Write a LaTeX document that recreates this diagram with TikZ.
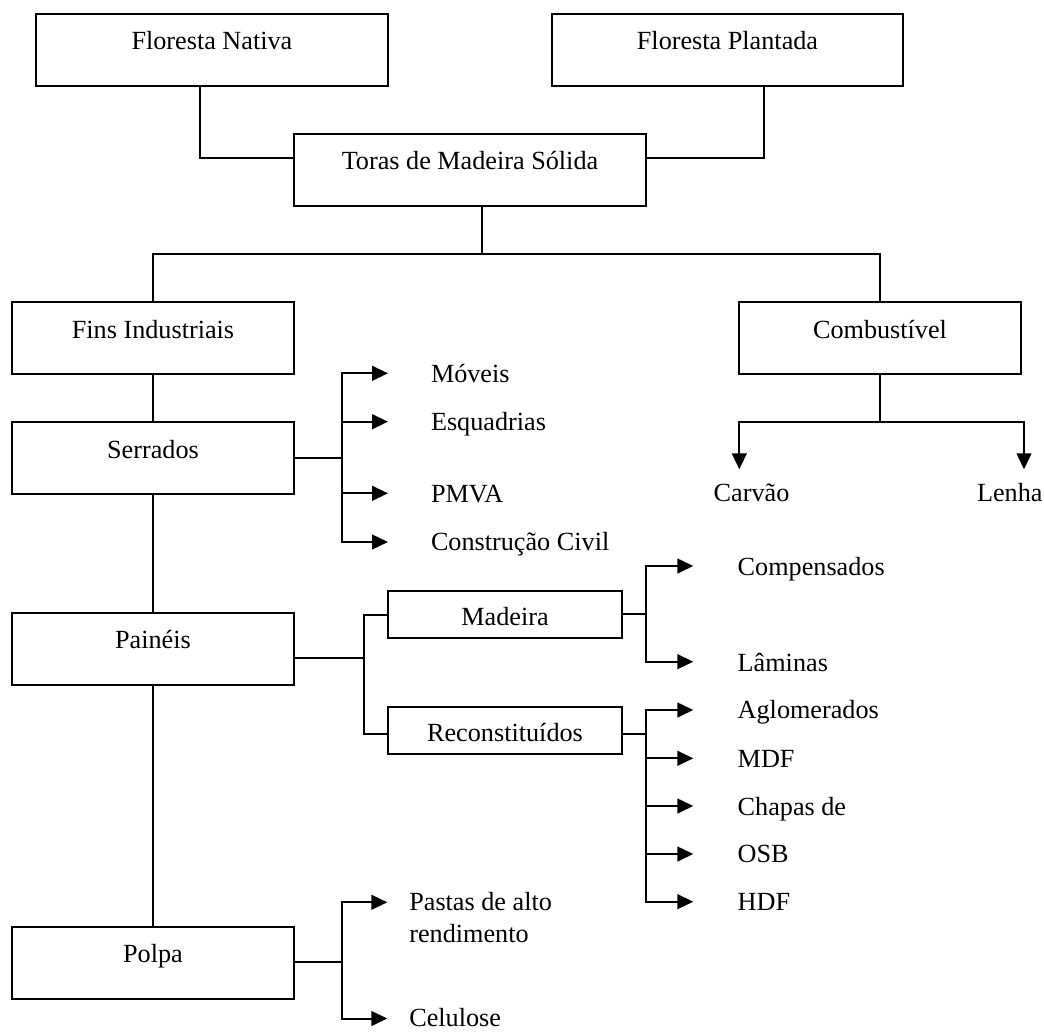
\documentclass[tikz,border=0pt]{standalone}
\usepackage{fontspec}
\setmainfont{Liberation Serif}
\usetikzlibrary{arrows.meta}
\begin{document}
\begin{tikzpicture}[x=0.5pt,y=-0.5pt,
  line width=1pt,
  every node/.style={font=\fontsize{13.1pt}{15.7pt}\selectfont},
  bigbox/.style={draw, line width=1pt, inner sep=0pt, minimum width=#1,
    text height=18pt, text depth=18pt},
  smallbox/.style={draw, line width=1pt, inner sep=0pt, minimum width=117pt,
    text height=17pt, text depth=6.5pt},
  leaf/.style={anchor=base west, inner sep=0pt},
  arr/.style={-{Triangle[length=8pt,width=7.4pt]}}
]
\useasboundingbox (0,0) rectangle (1044,1032);

% --- boxes ---
\node[bigbox=176pt]   (nat) at (211.9,50)  {Floresta Nativa};
\node[bigbox=175.5pt] (pla) at (727.5,50)  {Floresta Plantada};
\node[bigbox=176pt]   (tor) at (470,170)   {Toras de Madeira Sólida};
\node[bigbox=141pt]   (fin) at (153,338)   {Fins Industriais};
\node[bigbox=141pt]   (com) at (880,338)   {Combustível};
\node[bigbox=141pt]   (ser) at (153,458)   {Serrados};
\node[bigbox=141pt]   (pai) at (153,648.5) {Painéis};
\node[bigbox=141pt]   (pol) at (153,962.5) {Polpa};
\node[smallbox]       (mad) at (505,614.5) {Madeira};
\node[smallbox]       (rec) at (505,730.5) {Reconstituídos};

% --- leaf labels ---
\node[leaf] (mov) at (430,382.7)   {Móveis};
\node[leaf] (esq) at (430,430.7)   {Esquadrias};
\node[leaf] (pmv) at (430,502.7)   {PMVA};
\node[leaf] (cci) at (430,550.7)   {Construção Civil};
\node[leaf] (cmp) at (736.7,575.3) {Compensados};
\node[leaf] (lam) at (736.7,671)   {Lâminas};
\node[leaf] (agl) at (736.7,718.8) {Aglomerados};
\node[leaf] (mdf) at (736.7,767.8) {MDF};
\node[leaf] (cha) at (736.7,815)   {Chapas de};
\node[leaf] (osb) at (736.7,862)   {OSB};
\node[leaf] (hdf) at (736.7,910.5) {HDF};
\node[leaf] (pas) at (408.3,910.5) {Pastas de alto};
\node[leaf] (ren) at (408.3,942)   {rendimento};
\node[leaf] (cel) at (408.3,1026.5){Celulose};
\node[leaf] (car) at (712.7,501.7) {Carvão};
\node[leaf] (len) at (976,501.7)   {Lenha};

% --- junction points ---
\coordinate (j1) at (200,158);
\coordinate (j2) at (764,158);
\coordinate (j3) at (482,254);
\coordinate (j4) at (880,422.3);
\coordinate (sb) at (342,458);
\coordinate (pb) at (364,658.3);
\coordinate (rj) at (0,734);
\coordinate (mb) at (646,614);
\coordinate (rb) at (646,734);
\coordinate (qb) at (342.3,962.3);

% --- arrow tips ---
\coordinate (tcar) at (739.3,469.3);
\coordinate (tlen) at (1024,469.3);
\coordinate (tmov) at (388,373.3);
\coordinate (tesq) at (388,421.7);
\coordinate (tpmv) at (388,493.3);
\coordinate (tcci) at (388,542);
\coordinate (tcmp) at (693.3,566);
\coordinate (tlam) at (693.3,661.7);
\coordinate (tagl) at (693.3,710);
\coordinate (tmdf) at (693.3,758.3);
\coordinate (tcha) at (693.3,806);
\coordinate (tosb) at (693.3,854);
\coordinate (thdf) at (693.3,901.7);
\coordinate (tpas) at (387.3,902.3);
\coordinate (tcel) at (387.3,1018.5);

% --- top of the tree ---
\draw (nat.south -| j1) |- (tor.west |- j1);
\draw (pla.south -| j2) |- (tor.east |- j2);
\draw (tor.south -| j3) -- (j3);
\draw (fin.north) |- (j3) -| (com.north);

% --- fuel branch ---
\draw (com.south) -- (j4);
\draw[arr] (j4) -| (tcar);
\draw[arr] (j4) -| (tlen);

% --- industrial trunk ---
\draw (fin) -- (ser);
\draw (ser) -- (pai);
\draw (pai) -- (pol);

% --- sawn wood ---
\draw (ser.east) -- (sb);
\foreach \t in {tmov,tesq,tpmv,tcci} \draw[arr] (sb) |- (\t);

% --- panels ---
\draw (pai.east |- pb) -- (pb);
\draw (pb) |- (mad.west);
\draw (pb) |- (rec.west |- rj);
\draw (mad.east |- mb) -- (mb);
\foreach \t in {tcmp,tlam} \draw[arr] (mb) |- (\t);
\draw (rec.east |- rb) -- (rb);
\foreach \t in {tagl,tmdf,tcha,tosb,thdf} \draw[arr] (rb) |- (\t);

% --- pulp ---
\draw (pol.east |- qb) -- (qb);
\foreach \t in {tpas,tcel} \draw[arr] (qb) |- (\t);
\end{tikzpicture}
\end{document}
